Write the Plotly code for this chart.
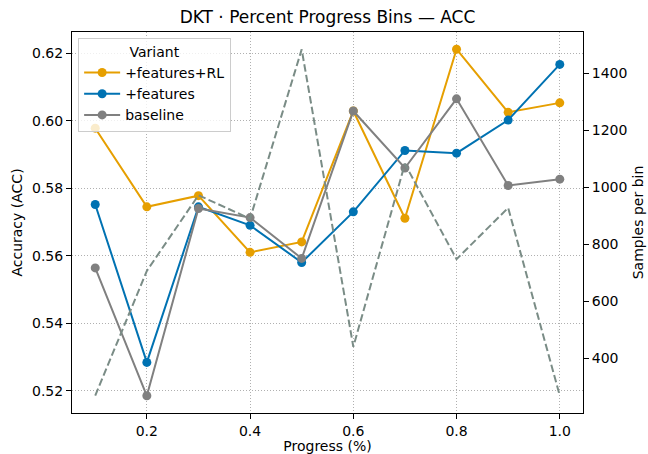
import plotly.graph_objects as go

progress = [0.1, 0.2, 0.3, 0.4, 0.5, 0.6, 0.7, 0.8, 0.9, 1.0]
acc_features_rl = [0.5978, 0.5745, 0.5778, 0.5610, 0.5641, 0.6029, 0.5711, 0.6212, 0.6025, 0.6053]
acc_features = [0.5752, 0.5284, 0.5745, 0.5690, 0.5580, 0.5730, 0.5912, 0.5904, 0.6002, 0.6167]
acc_baseline = [0.5564, 0.5185, 0.5740, 0.5713, 0.5592, 0.6029, 0.5860, 0.6065, 0.5808, 0.5827]
samples_per_bin = [270, 707, 972, 890, 1483, 441, 1082, 748, 928, 270]

series_names = ["+features+RL", "+features", "baseline"]
series_colors = ["#E69F00", "#0072B2", "#808080"]
series_values = [acc_features_rl, acc_features, acc_baseline]

FONT = "DejaVu Sans"
fig = go.Figure()

for name, color, vals in zip(series_names, series_colors, series_values):
    fig.add_trace(go.Scatter(
        x=progress, y=vals, name=name, mode="lines+markers",
        line=dict(color=color, width=2),
        marker=dict(color=color, size=9),
        yaxis="y",
    ))

fig.add_trace(go.Scatter(
    x=progress, y=samples_per_bin, name="samples", mode="lines",
    line=dict(color="rgb(122,140,134)", width=2, dash="7.5px,3.3px"),
    showlegend=False, yaxis="y2",
))

axis_common = dict(
    showline=True, linecolor="black", linewidth=1,
    ticks="outside", ticklen=5, tickcolor="black", tickwidth=1,
    tickfont=dict(family=FONT, size=14, color="black"),
    zeroline=False, automargin=False,
)

GRID = dict(showgrid=True, gridcolor="#b0b0b0", griddash="1px,2px", gridwidth=1)

fig.update_layout(
    width=648, height=454,
    margin=dict(l=72, r=65, t=32, b=41),
    paper_bgcolor="white", plot_bgcolor="white",
    font=dict(family=FONT, size=14, color="black"),
    title=dict(text="DKT · Percent Progress Bins — ACC", x=0.5, xref="paper",
               y=1 - 17 / 454, yref="container", yanchor="middle",
               font=dict(family=FONT, size=17, color="black")),
    xaxis=dict(
        range=[0.055, 1.045], tick0=0, dtick=0.2, tickformat=".1f",
        mirror=True, **GRID,
        title=dict(text="Progress (%)", font=dict(family=FONT, size=14), standoff=2),
        **axis_common,
    ),
    yaxis=dict(
        range=[0.5134, 0.6263], tick0=0, dtick=0.02, tickformat=".2f",
        mirror=True, **GRID,
        title=dict(text="Accuracy (ACC)", font=dict(family=FONT, size=14), standoff=6),
        **axis_common,
    ),
    yaxis2=dict(
        range=[209, 1544], tickvals=[400, 600, 800, 1000, 1200, 1400],
        overlaying="y", side="right", showgrid=False,
        title=dict(text="Samples per bin", font=dict(family=FONT, size=14), standoff=6),
        **axis_common,
    ),
    legend=dict(
        x=0.012, y=0.985, xanchor="left", yanchor="top",
        bgcolor="rgba(255,255,255,0.8)", bordercolor="#cccccc", borderwidth=1,
        title=dict(text="Variant", side="top center", font=dict(family=FONT, size=14)),
        font=dict(family=FONT, size=14),
        tracegroupgap=0, itemwidth=36,
    ),
)

fig.write_html("out.html", config={"displayModeBar": False},
               post_script="document.body.style.margin='0px';")
